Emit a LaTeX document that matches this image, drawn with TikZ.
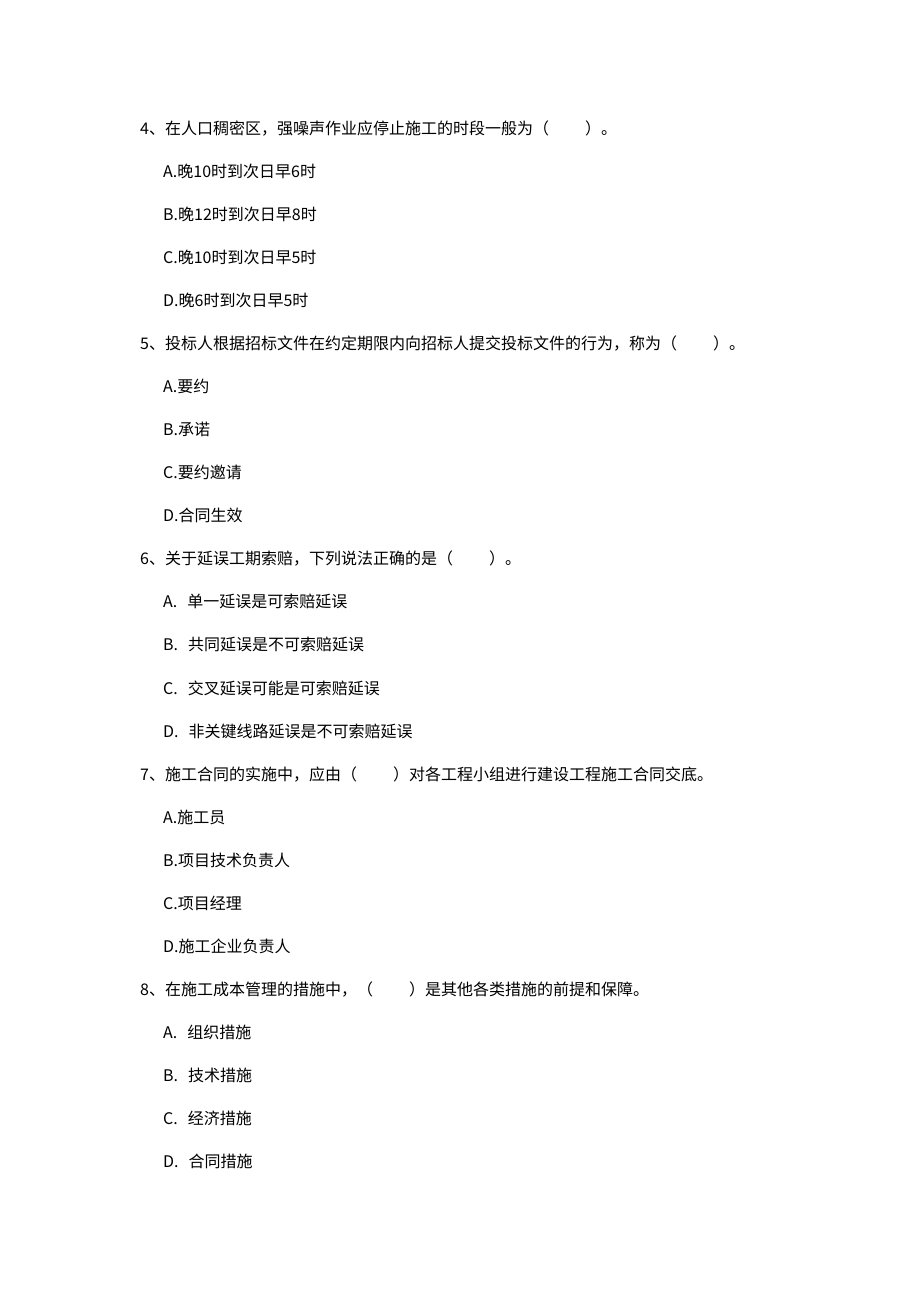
\documentclass[tikz,border=0pt]{standalone}
\usepackage{fontspec}
\setmainfont{Noto Sans CJK SC}

\tikzset{%
  every line/.style={
    anchor=base west,
    inner sep=0pt,
    font=\fontsize{16pt}{16pt}\selectfont
  },
  question line/.style={},
  option line/.style={},
}
\newcommand{\blankpar}{（\hspace{2.25em}）}
\newcommand{\optgap}{\hspace{10pt}}

\begin{document}
\begin{tikzpicture}[x=1pt, y=-1pt]

    \useasboundingbox (0,0) rectangle (920,1302);

    \foreach \n/\stem/\optA/\optB/\optC/\optD [count=\i from 0] in {
      4/{在人口稠密区，强噪声作业应停止施工的时段一般为\blankpar 。}/{晚10时到次日早6时}/{晚12时到次日早8时}/{晚10时到次日早5时}/{晚6时到次日早5时},
      5/{投标人根据招标文件在约定期限内向招标人提交投标文件的行为，称为\blankpar 。}/{要约}/{承诺}/{要约邀请}/{合同生效},
      6/{关于延误工期索赔，下列说法正确的是\blankpar 。}/{\optgap 单一延误是可索赔延误}/{\optgap 共同延误是不可索赔延误}/{\optgap 交叉延误可能是可索赔延误}/{\optgap 非关键线路延误是不可索赔延误},
      7/{施工合同的实施中，应由\blankpar 对各工程小组进行建设工程施工合同交底。}/{施工员}/{项目技术负责人}/{项目经理}/{施工企业负责人},
      8/{在施工成本管理的措施中，\blankpar 是其他各类措施的前提和保障。}/{\optgap 组织措施}/{\optgap 技术措施}/{\optgap 经济措施}/{\optgap 合同措施}
    }{
      \node [every line/.try, question line/.try] (q\n) at (140, 134+\i*215.4) {\n、\stem};
      \foreach \o/\txt [count=\j] in {A/\optA, B/\optB, C/\optC, D/\optD}
        \node [every line/.try, option line/.try] (q\n-\o) at (163, 134+\i*215.4+\j*43.08) {\o.\txt};
    }

\end{tikzpicture}
\end{document}
